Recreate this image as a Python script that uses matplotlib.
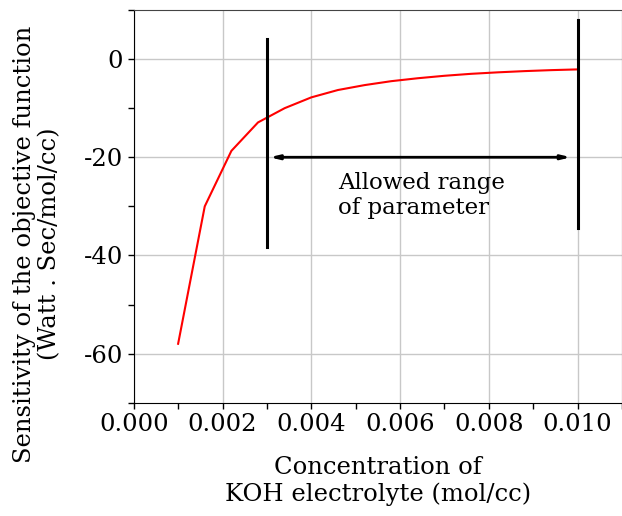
import matplotlib.pyplot as plt
from matplotlib.ticker import MultipleLocator

# concentration (mol/cc) and sensitivity (Watt . Sec/mol/cc)
conc = [0.0010, 0.0016, 0.0022, 0.0028, 0.0034, 0.0040, 0.0046, 0.0052,
        0.0058, 0.0064, 0.0070, 0.0076, 0.0082, 0.0088, 0.0094, 0.0100]
sens = [-58.0, -30.0, -18.7, -12.9, -10.0, -7.8, -6.3, -5.3,
        -4.5, -3.9, -3.4, -3.0, -2.7, -2.45, -2.25, -2.1]

# allowed range markers
range_lo = 0.003
range_hi = 0.010
lo_line = (-38.2, 4.0)
hi_line = (-34.5, 8.0)
arrow_y = -20
range_text = 'Allowed range\nof parameter'

plt.rcParams['font.family'] = 'DejaVu Serif'
plt.rcParams['axes.unicode_minus'] = False

fig = plt.figure(figsize=(6.22, 5.16), dpi=100)
ax = fig.add_axes([0.215, 0.2196, 0.785, 0.761])

ax.plot(conc, sens, color='#ff0000', linewidth=1.5, zorder=3)
ax.plot([range_lo, range_lo], lo_line, color='black', linewidth=2.2, zorder=4)
ax.plot([range_hi, range_hi], hi_line, color='black', linewidth=2.2, zorder=4)
ax.annotate('', xy=(0.00985, arrow_y), xytext=(0.00306, arrow_y),
            arrowprops=dict(arrowstyle='<|-|>,head_length=0.5,head_width=0.12',
                            color='black', lw=2, shrinkA=0, shrinkB=0), zorder=4)
ax.text(0.0046, -23, range_text, fontsize=16.5, va='top', ha='left', linespacing=1.2)

ax.set_xlim(0, 0.011)
ax.set_ylim(-70, 10)
ax.xaxis.set_major_locator(MultipleLocator(0.002))
ax.xaxis.set_minor_locator(MultipleLocator(0.001))
ax.yaxis.set_major_locator(MultipleLocator(20))
ax.yaxis.set_minor_locator(MultipleLocator(10))
ax.xaxis.set_major_formatter(lambda v, p: '%.3f' % v)
ax.tick_params(which='both', direction='out', length=4, width=1, labelsize=17.5)
ax.tick_params(top=False, right=False)
ax.grid(color='#c8c8c8', linewidth=1)
ax.set_axisbelow(True)
for s in ['top', 'right']:
    ax.spines[s].set_color('#444444')

ax.set_xlabel('Concentration of\nKOH electrolyte (mol/cc)', fontsize=17.5, labelpad=14, linespacing=1.2)
fig.text(37 / 622, 0.527, 'Sensitivity of the objective function\n(Watt . Sec/mol/cc)',
         fontsize=17.5, rotation=90, ha='center', va='center', multialignment='center', linespacing=1.1)

fig.savefig('out.png', dpi=100)
